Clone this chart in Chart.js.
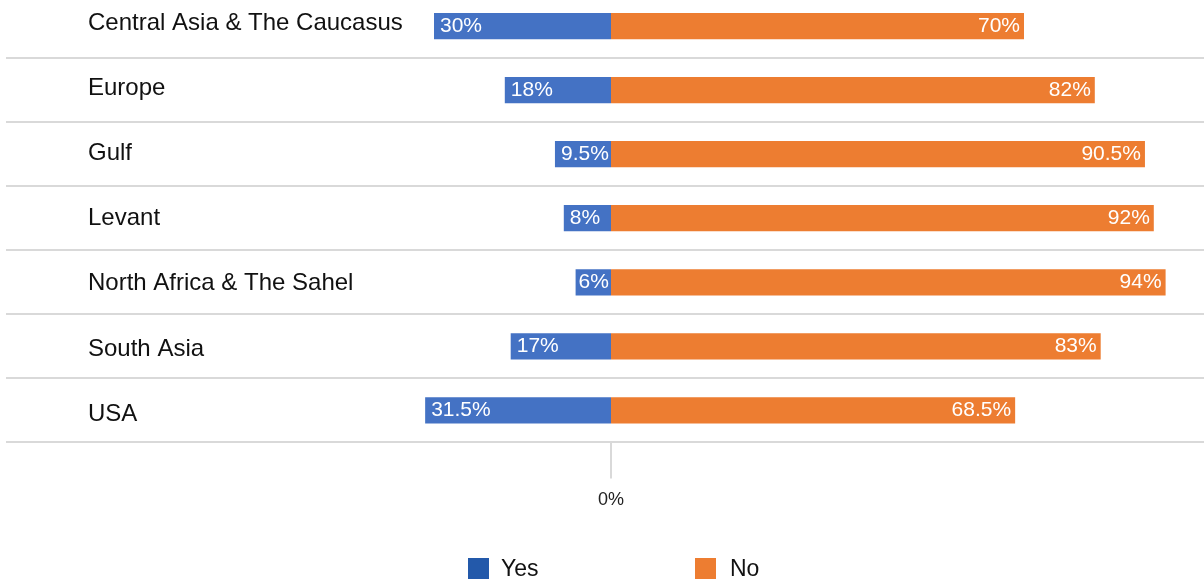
<!DOCTYPE html>
<html>
<head>
<meta charset="utf-8">
<script src="https://cdn.jsdelivr.net/npm/chart.js@4/dist/chart.umd.min.js"></script>
<style>
  html, body { margin: 0; padding: 0; background: #ffffff; overflow: hidden; }
  #wrap { position: relative; width: 1204px; height: 584px; overflow: hidden; }
  #chart { position: absolute; left: 0; top: -6px; }
</style>
</head>
<body>
<div id="wrap"><canvas id="chart" width="1204" height="590"></canvas></div>
<script>
// Regions and the share of answers per region (percent)
const regions = [
  'Central Asia & The Caucasus',
  'Europe',
  'Gulf',
  'Levant',
  'North Africa & The Sahel',
  'South Asia',
  'USA'
];
const yesShare = [30, 18, 9.5, 8, 6, 17, 31.5];
const noShare = [70, 82, 90.5, 92, 94, 83, 68.5];
const seriesNames = ['Yes', 'No'];
const axisTicks = [0];

const FONT = '"Liberation Sans", Arial, Helvetica, sans-serif';
const BAR_COLORS = ['#4472c4', '#ed7d31'];
const KEY_COLORS = ['#2359aa', '#ed7d31'];

// "Yes" extends to the left of zero, "No" to the right
const yesData = yesShare.map(v => -v);
const noData = noShare.slice();

function pct(v) { return Math.abs(v) + '%'; }

// Region names drawn inside the plot, left aligned on each row
const regionLabels = {
  id: 'regionLabels',
  afterDatasetsDraw(chart) {
    const ctx = chart.ctx;
    const yScale = chart.scales.y;
    const mid = (chart.data.labels.length - 1) / 2;
    ctx.save();
    ctx.font = '24px ' + FONT;
    ctx.fillStyle = '#111111';
    ctx.textAlign = 'left';
    ctx.textBaseline = 'middle';
    chart.data.labels.forEach((name, i) => {
      const y = yScale.getPixelForValue(i) + (i - mid) * 1.1 + 0.5;
      ctx.fillText(name, 88, y);
    });
    ctx.restore();
  }
};

// Value labels inside the bars
const valueLabels = {
  id: 'valueLabels',
  afterDatasetsDraw(chart) {
    const ctx = chart.ctx;
    ctx.save();
    ctx.font = '21px ' + FONT;
    ctx.fillStyle = '#ffffff';
    ctx.textBaseline = 'middle';
    chart.data.datasets.forEach((ds, di) => {
      const meta = chart.getDatasetMeta(di);
      meta.data.forEach((bar, i) => {
        const left = Math.min(bar.x, bar.base);
        const right = Math.max(bar.x, bar.base);
        const text = pct(ds.data[i]);
        if (di === 0) {
          ctx.textAlign = 'left';
          ctx.fillText(text, left + (right - left < 45 ? 3 : 6), bar.y);
        } else {
          ctx.textAlign = 'right';
          ctx.fillText(text, right - 4, bar.y);
        }
      });
    });
    ctx.restore();
  }
};

// Legend row under the axis
const keyRow = {
  id: 'keyRow',
  afterDraw(chart) {
    const ctx = chart.ctx;
    const slots = [468, 695];
    const boxTop = 564;
    const box = 21;
    ctx.save();
    ctx.font = '23px ' + FONT;
    ctx.textAlign = 'left';
    ctx.textBaseline = 'middle';
    chart.data.datasets.forEach((ds, i) => {
      ctx.fillStyle = KEY_COLORS[i];
      ctx.fillRect(slots[i], boxTop, box, box);
      ctx.fillStyle = '#111111';
      ctx.fillText(ds.label, slots[i] + box + 12 + (i === 1 ? 2 : 0), boxTop + box / 2 + 1);
    });
    ctx.restore();
  }
};

new Chart(document.getElementById('chart'), {
  type: 'bar',
  data: {
    labels: regions,
    datasets: [
      { label: seriesNames[0], data: yesData, backgroundColor: BAR_COLORS[0], borderWidth: 0, inflateAmount: 0 },
      { label: seriesNames[1], data: noData, backgroundColor: BAR_COLORS[1], borderWidth: 0, inflateAmount: 0 }
    ]
  },
  options: {
    indexAxis: 'y',
    responsive: false,
    animation: false,
    devicePixelRatio: 1,
    layout: { padding: { left: 6, right: 0, top: 0, bottom: 62 } },
    datasets: {
      bar: { categoryPercentage: 1, barPercentage: 0.41 }
    },
    plugins: {
      legend: { display: false },
      tooltip: { enabled: false },
      title: { display: false }
    },
    scales: {
      x: {
        stacked: true,
        // 605 px left of zero and 593 px right of it at 5.9 px per percent
        min: -605 / 5.9,
        max: 593 / 5.9,
        afterBuildTicks(scale) { scale.ticks = axisTicks.map(v => ({ value: v })); },
        border: { display: false },
        grid: {
          drawOnChartArea: false,
          lineWidth: 0,
          drawTicks: true,
          tickLength: 36,
          tickColor: '#d9d9d9',
          tickWidth: 2
        },
        ticks: {
          padding: 11,
          color: '#222222',
          font: { family: FONT, size: 18 },
          callback: v => v + '%'
        }
      },
      y: {
        stacked: true,
        border: { display: false },
        grid: {
          offset: true,
          drawTicks: false,
          color: '#d9d9d9',
          lineWidth: 2
        },
        ticks: { display: false }
      }
    }
  },
  plugins: [regionLabels, valueLabels, keyRow]
});
</script>
</body>
</html>
